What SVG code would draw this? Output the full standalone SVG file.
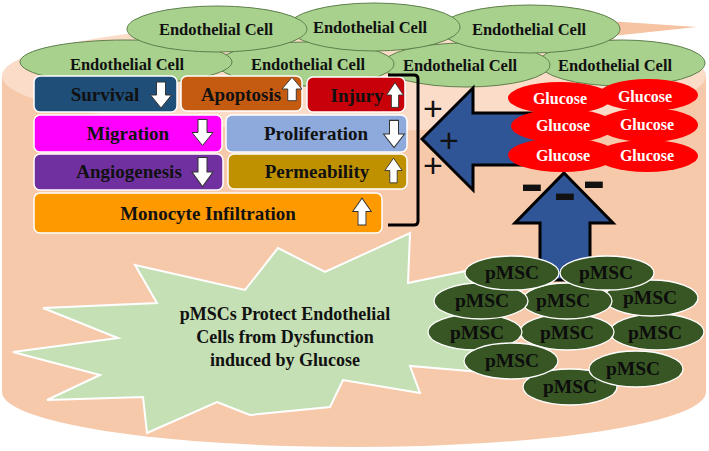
<svg xmlns="http://www.w3.org/2000/svg" xmlns:xlink="http://www.w3.org/1999/xlink" width="709" height="451" viewBox="0 0 709 451">
<defs>
<style>
.bx{stroke:#ffffff;stroke-width:1.5}
.bt{font-family:"Liberation Serif","Times New Roman",serif;font-weight:bold;font-size:19px;fill:#111111;text-anchor:middle}
.ec{fill:#A9D18E;stroke:#5E7F4B;stroke-width:1}
.et{font-family:"Liberation Serif","Times New Roman",serif;font-weight:bold;font-size:16.5px;fill:#111111;text-anchor:middle}
.gl{fill:#FF0000;stroke:none}
.gt{font-family:"Liberation Serif","Times New Roman",serif;font-weight:bold;font-size:16px;fill:#ffffff;text-anchor:middle}
.pm{fill:#375623;stroke:#ffffff;stroke-width:1.3}
.pt{font-family:"Liberation Serif","Times New Roman",serif;font-weight:bold;font-size:19.5px;fill:#0d0d0d;text-anchor:middle}
.st{font-family:"Liberation Serif","Times New Roman",serif;font-weight:bold;font-size:18px;fill:#111111;text-anchor:middle}
.big{fill:#2F5597;stroke:#000000;stroke-width:3;stroke-linejoin:miter}
.pl{font-family:"Liberation Sans",Arial,sans-serif;font-size:34px;fill:#111111;text-anchor:middle}
.mi{font-family:"Liberation Sans",Arial,sans-serif;font-weight:bold;font-size:54px;fill:#111111;text-anchor:middle}
.wa{fill:#ffffff;stroke:#333333;stroke-width:1}
</style>
<path id="dn" d="M-4.5,-13 H4.5 V0 H10.5 L0,13 L-10.5,0 H-4.5 Z"/>
</defs>

<g id="background">
<path d="M2,76 V392 A352,55 0 0 0 706,392 V76 Z" fill="#F7C9AB"/>
<ellipse cx="354" cy="76" rx="352" ry="55" fill="#FADCC9"/>
<polygon points="608,21 697,27 612,36" fill="#F6C3A3"/>
</g>

<g id="starburst">
<polygon points="135,265 245,290 278,248 325,272 410,233 408,283 480,268 480,372 410,366 420,393 343,380 330,407 250,415 217,402 147,433 143,397 47,400 100,375 13,352 118,338 43,308 157,303" fill="#C5E0B4" stroke="#ffffff" stroke-width="2" stroke-linejoin="miter"/>
<text class="st" x="285" y="320">pMSCs Protect Endothelial</text>
<text class="st" x="285" y="343">Cells from Dysfunction</text>
<text class="st" x="285" y="366">induced by Glucose</text>
</g>

<g id="endothelial-cells">
<g id="ec7"><ellipse class="ec" cx="622" cy="63" rx="83" ry="23"/><text class="et" x="615" y="71">Endothelial Cell</text></g>
<g id="ec6"><ellipse class="ec" cx="466" cy="65" rx="84" ry="22"/><text class="et" x="460" y="71">Endothelial Cell</text></g>
<g id="ec5"><ellipse class="ec" cx="306" cy="64" rx="88" ry="22"/><text class="et" x="308" y="70">Endothelial Cell</text></g>
<g id="ec4"><ellipse class="ec" cx="126" cy="62" rx="106" ry="22"/><text class="et" x="127" y="70">Endothelial Cell</text></g>
<g id="ec3"><ellipse class="ec" cx="530" cy="29" rx="90" ry="24"/><text class="et" x="529" y="35">Endothelial Cell</text></g>
<g id="ec2"><ellipse class="ec" cx="374" cy="27" rx="86" ry="24"/><text class="et" x="370" y="33">Endothelial Cell</text></g>
<g id="ec1"><ellipse class="ec" cx="217" cy="29" rx="90" ry="23"/><text class="et" x="216" y="35">Endothelial Cell</text></g>
</g>

<g id="effects">
<g id="survival"><rect class="bx" x="34" y="76" width="143" height="36" rx="6" fill="#1F4E79"/><text class="bt" x="105" y="101">Survival</text><use xlink:href="#dn" class="wa" transform="translate(161,95)"/></g>
<g id="apoptosis"><rect class="bx" x="181" y="76" width="121" height="35" rx="6" fill="#C55A11"/><text class="bt" x="241" y="101">Apoptosis</text><use xlink:href="#dn" class="wa" transform="translate(292,89) scale(0.95,-0.9)"/></g>
<g id="injury"><rect class="bx" x="307" y="77" width="98" height="35" rx="6" fill="#C8000A"/><text class="bt" x="357" y="102">Injury</text><use xlink:href="#dn" class="wa" transform="translate(395,95) scale(0.8,-0.95)"/></g>
<g id="migration"><rect class="bx" x="34" y="115" width="188" height="37" rx="6" fill="#FF00FF"/><text class="bt" x="128" y="140">Migration</text><use xlink:href="#dn" class="wa" transform="translate(202.5,132.5)"/></g>
<g id="proliferation"><rect class="bx" x="226" y="115" width="181" height="37" rx="6" fill="#8EA9DB"/><text class="bt" x="316" y="140">Proliferation</text><use xlink:href="#dn" class="wa" transform="translate(394,134) scale(1,1.05)"/></g>
<g id="angiogenesis"><rect class="bx" x="34" y="154" width="189" height="36" rx="6" fill="#7030A0"/><text class="bt" x="129" y="178">Angiogenesis</text><use xlink:href="#dn" class="wa" transform="translate(202.5,172) scale(1,1.12)"/></g>
<g id="permeability"><rect class="bx" x="228" y="154" width="179" height="35" rx="6" fill="#BF9000"/><text class="bt" x="317" y="178">Permeability</text><use xlink:href="#dn" class="wa" transform="translate(393.5,170.5) scale(0.82,-0.95)"/></g>
<g id="monocyte"><rect class="bx" x="34" y="193" width="348" height="40" rx="6" fill="#FF9900"/><text class="bt" x="208" y="220">Monocyte Infiltration</text><use xlink:href="#dn" class="wa" transform="translate(362,211.5) scale(0.88,-1.03)"/></g>
</g>

<g id="connectors">
<path d="M388,75 H414 Q418,75 418,79 V221 Q418,225 414,225 H388" fill="none" stroke="#000000" stroke-width="3"/>
<polygon class="big" points="422,139 473,88 473,113 545,113 545,165 473,165 473,190"/>
<polygon class="big" points="564,173 613,223 590,223 590,280 540,280 540,223 515,223"/>
</g>

<g id="glucose">
<g id="g2"><ellipse class="gl" cx="648" cy="95" rx="50" ry="16"/><text class="gt" x="645" y="102">Glucose</text></g>
<g id="g1"><ellipse class="gl" cx="560" cy="98" rx="52" ry="16"/><text class="gt" x="560" y="104">Glucose</text></g>
<g id="g4"><ellipse class="gl" cx="648" cy="125" rx="50" ry="17"/><text class="gt" x="647" y="130">Glucose</text></g>
<g id="g3"><ellipse class="gl" cx="563" cy="126" rx="52" ry="17"/><text class="gt" x="563" y="131">Glucose</text></g>
<g id="g6"><ellipse class="gl" cx="647" cy="156" rx="51" ry="16"/><text class="gt" x="647" y="161">Glucose</text></g>
<g id="g5"><ellipse class="gl" cx="562" cy="155" rx="54" ry="17"/><text class="gt" x="563" y="161">Glucose</text></g>
</g>

<g id="signs">
<text class="pl" x="433" y="120">+</text>
<text class="pl" x="449" y="152">+</text>
<text class="pl" x="433" y="177">+</text>
<text class="mi" transform="translate(532,202) scale(1.3,1)">-</text>
<text class="mi" transform="translate(565,211) scale(1.3,1)">-</text>
<text class="mi" transform="translate(594,199) scale(1.3,1)">-</text>
</g>

<g id="pmsc">
<g id="p11"><ellipse class="pm" cx="570" cy="387" rx="47" ry="18"/><text class="pt" x="570" y="393">pMSC</text></g>
<g id="p8"><ellipse class="pm" cx="657" cy="332" rx="47" ry="18"/><text class="pt" x="655" y="339">pMSC</text></g>
<g id="p7"><ellipse class="pm" cx="567" cy="332" rx="47" ry="18"/><text class="pt" x="567" y="339">pMSC</text></g>
<g id="p6"><ellipse class="pm" cx="475" cy="332" rx="47" ry="18"/><text class="pt" x="477" y="339">pMSC</text></g>
<g id="p10"><ellipse class="pm" cx="636" cy="369" rx="47" ry="18"/><text class="pt" x="633" y="375">pMSC</text></g>
<g id="p9"><ellipse class="pm" cx="511" cy="361" rx="47" ry="18"/><text class="pt" x="512" y="367">pMSC</text></g>
<g id="p5"><ellipse class="pm" cx="651" cy="298" rx="47" ry="18"/><text class="pt" x="650" y="304">pMSC</text></g>
<g id="p4"><ellipse class="pm" cx="567" cy="301" rx="45" ry="18"/><text class="pt" x="563" y="307">pMSC</text></g>
<g id="p3"><ellipse class="pm" cx="481" cy="301" rx="47" ry="18"/><text class="pt" x="482" y="307">pMSC</text></g>
<g id="p2"><ellipse class="pm" cx="607" cy="273" rx="47" ry="17"/><text class="pt" x="606" y="279">pMSC</text></g>
<g id="p1"><ellipse class="pm" cx="512" cy="273" rx="47" ry="17"/><text class="pt" x="512" y="279">pMSC</text></g>
</g>
</svg>
